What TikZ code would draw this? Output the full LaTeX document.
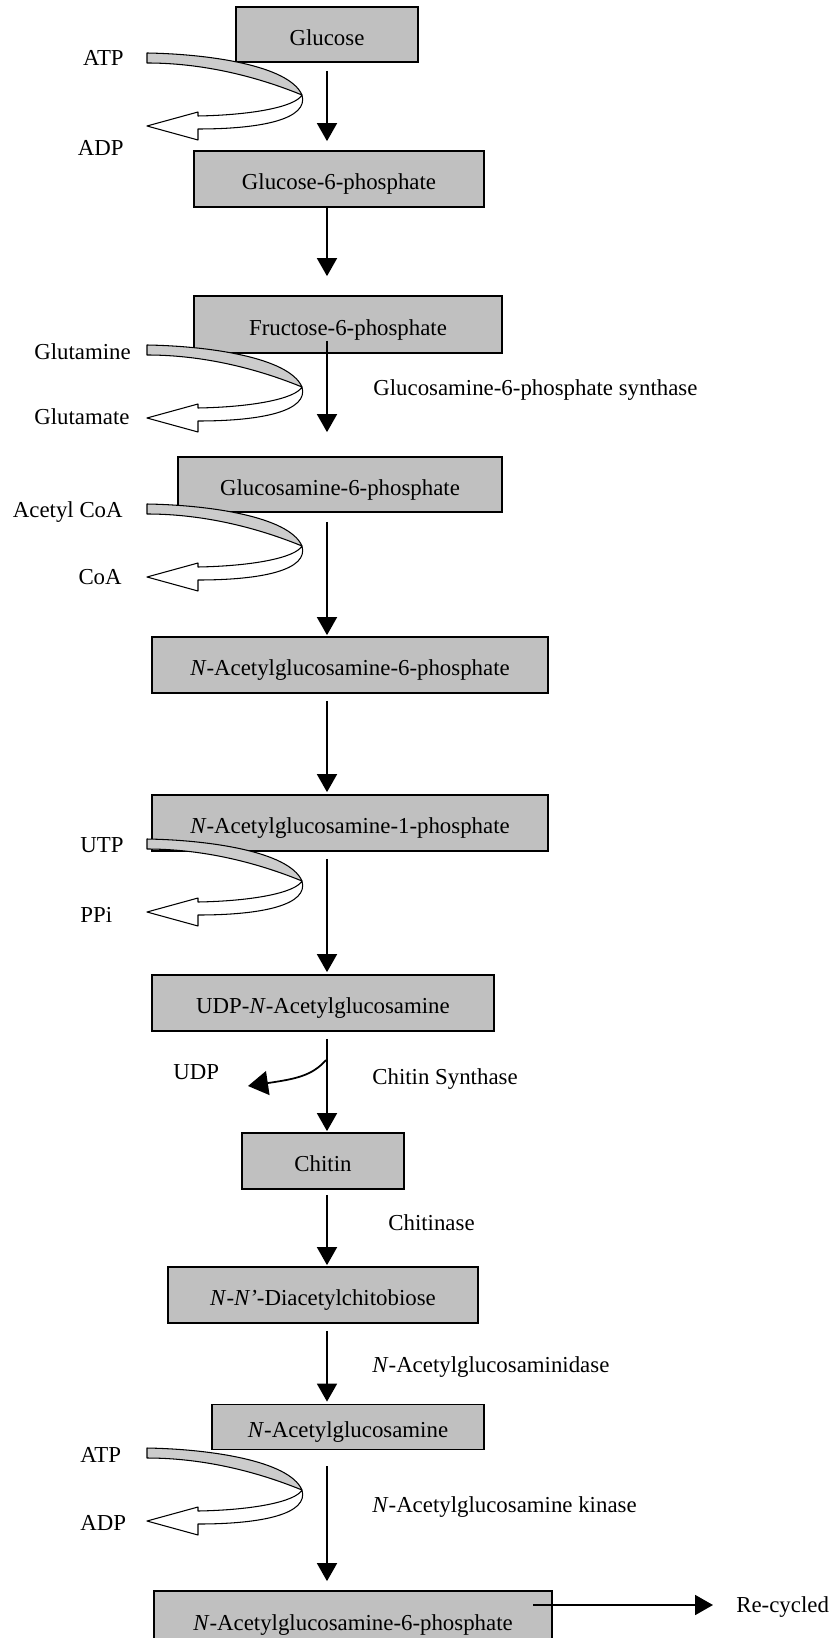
\documentclass[tikz,border=0pt]{standalone}
\usepackage{fontspec}
\setmainfont{Liberation Serif}
\usetikzlibrary{arrows.meta,calc}
\definecolor{boxgray}{RGB}{192,192,192}
\definecolor{bandgray}{RGB}{204,204,204}
\tikzset{
  stage/.style={draw, fill=boxgray, line width=1pt, inner sep=0pt, text height=12.5pt, text depth=0pt},
  lbl/.style={inner sep=0pt, text height=8.6pt, text depth=0pt},
  flow/.style={line width=1pt, -{Triangle[width=0.4cm,length=0.36cm]}},
  bandline/.style={line width=0.6pt, line join=round},
  fatarrow/.pic={
    \draw[bandline, fill=bandgray] (0,0) .. controls (60,1) and (142,12) .. (155,42)
      .. controls (128,31) and (70,10) .. (0,10) -- cycle;
    \draw[bandline, fill=white] (155,42) .. controls (148,54) and (105,62) .. (51,63)
      -- (51,59) -- (0,73) -- (51,87) -- (51,76)
      .. controls (115,76) and (162,66) .. (155,42) -- cycle;
  }
}
\begin{document}
\begin{tikzpicture}[x=0.02cm, y=-0.02cm, font=\fontsize{13}{15}\selectfont]
  \useasboundingbox (0,0) rectangle (831,1638);
  \clip (0,0) rectangle (831,1638);
  \coordinate (ax) at (327,0);

  % pathway boxes
  \node[stage, minimum width=3.64cm, minimum height=1.10cm] (glc) at (327,34.5) {Glucose};
  \node[stage, minimum width=5.80cm, minimum height=1.12cm] (g6p) at (339,179) {Glucose-6-phosphate};
  \node[stage, minimum width=6.16cm, minimum height=1.14cm] (f6p) at (348,324.5) {Fructose-6-phosphate};
  \node[stage, minimum width=6.48cm, minimum height=1.10cm] (gln6p) at (340,484.5) {Glucosamine-6-phosphate};
  \node[stage, minimum width=7.92cm, minimum height=1.12cm] (nag6p) at (350,665) {\textit{N}-Acetylglucosamine-6-phosphate};
  \node[stage, minimum width=7.92cm, minimum height=1.12cm] (nag1p) at (350,823) {\textit{N}-Acetylglucosamine-1-phosphate};
  \node[stage, minimum width=6.84cm, minimum height=1.12cm] (udpnag) at (323,1003) {UDP-\textit{N}-Acetylglucosamine};
  \node[stage, minimum width=3.24cm, minimum height=1.12cm] (chitin) at (323,1161) {Chitin};
  \node[stage, minimum width=6.20cm, minimum height=1.12cm] (chitob) at (323,1295) {\textit{N}-\textit{N’}-Diacetylchitobiose};
  \node[stage, minimum width=5.44cm, minimum height=0.90cm] (nag) at (348,1427) {\textit{N}-Acetylglucosamine};
  \node[stage, minimum width=7.96cm, minimum height=1.12cm] (nag6pb) at (353,1619) {\textit{N}-Acetylglucosamine-6-phosphate};

  % main steps
  \draw[flow] ($(ax |- glc.south)+(0,8)$) -- ($(ax |- g6p.north)+(0,-9)$);
  \draw[flow] (ax |- g6p.south) -- ($(ax |- f6p.north)+(0,-19)$);
  \draw[flow] ($(ax |- f6p.south)+(0,-13)$) -- ($(ax |- gln6p.north)+(0,-24)$);
  \draw[flow] ($(ax |- gln6p.south)+(0,9)$) -- ($(ax |- nag6p.north)+(0,-1)$);
  \draw[flow] ($(ax |- nag6p.south)+(0,7)$) -- ($(ax |- nag1p.north)+(0,-2)$);
  \draw[flow] ($(ax |- nag1p.south)+(0,7)$) -- ($(ax |- udpnag.north)+(0,-2)$);
  \draw[flow] ($(ax |- udpnag.south)+(0,7)$) -- ($(ax |- chitin.north)+(0,-1)$);
  \draw[flow] ($(ax |- chitin.south)+(0,5)$) -- ($(ax |- chitob.north)+(0,-1)$);
  \draw[flow] ($(ax |- chitob.south)+(0,7)$) -- ($(ax |- nag.north)+(0,-2)$);
  \draw[flow] ($(ax |- nag.south)+(0,16)$) -- ($(ax |- nag6pb.north)+(0,-9)$);

  % co-substrates
  \pic at (147,53) {fatarrow};
  \pic at (147,345) {fatarrow};
  \pic at (147,504) {fatarrow};
  \pic at (147,839) {fatarrow};
  \pic at (147,1448) {fatarrow};

  \node[lbl, anchor=east] (atp1) at (124,58) {ATP};
  \node[lbl, anchor=east] (adp1) at (124,148) {ADP};
  \node[lbl, anchor=west] (gln) at (34,352) {Glutamine};
  \node[lbl, anchor=west] (glu) at (34,417) {Glutamate};
  \node[lbl, anchor=east] (accoa) at (123,510) {Acetyl CoA};
  \node[lbl, anchor=east] (coa) at (122,577) {CoA};
  \node[lbl, anchor=west] (utp) at (80,845) {UTP};
  \node[lbl, anchor=west] (ppi) at (80,915) {PPi};
  \node[lbl, anchor=west] (atp2) at (80,1455) {ATP};
  \node[lbl, anchor=west] (adp2) at (80,1523) {ADP};

  % enzymes
  \node[lbl, anchor=west] (gfat) at (373,388) {Glucosamine-6-phosphate synthase};
  \node[lbl, anchor=west] (chs) at (372,1077) {Chitin Synthase};
  \node[lbl, anchor=west] (chase) at (388,1223) {Chitinase};
  \node[lbl, anchor=west] (nagase) at (372,1365) {\textit{N}-Acetylglucosaminidase};
  \node[lbl, anchor=west] (nagk) at (372,1505) {\textit{N}-Acetylglucosamine kinase};

  % UDP release
  \node[lbl, anchor=west] (udp) at (173,1072) {UDP};
  \coordinate (udpfork) at (326,1060);
  \coordinate (udptip) at (248,1086);
  \draw[line width=1pt, -{Triangle[width=0.48cm,length=0.4cm]}]
    (udpfork) .. controls (312,1076) and (295,1079) .. (udptip);

  % recycling
  \node[lbl, anchor=west] (recyc) at (736,1605) {Re-cycled};
  \coordinate (recfrom) at (533,1605);
  \draw[flow, shorten >=0.46cm] (recfrom) -- (recyc.west);
\end{tikzpicture}
\end{document}
